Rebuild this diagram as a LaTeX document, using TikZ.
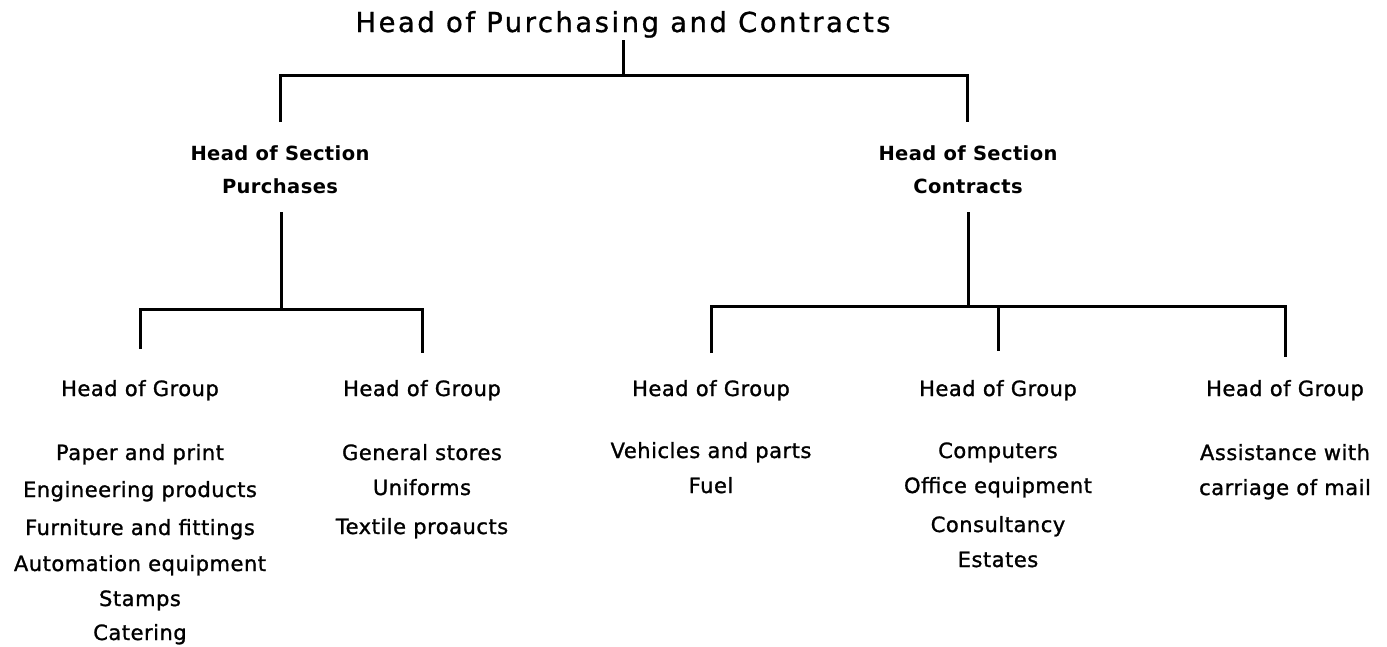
\documentclass[tikz,border=0pt]{standalone}
\usepackage{fontspec}
\setmainfont{DejaVu Sans}
\newfontfamily\titlefont[LetterSpace=9,FakeBold=1]{DejaVu Sans}
\newfontfamily\secfont[LetterSpace=2]{DejaVu Sans}
\newfontfamily\itemfont[LetterSpace=2.5,FakeBold=1.2]{DejaVu Sans}
\tikzset{
  txt/.style={inner sep=0pt, anchor=base, font=\itemfont\fontsize{21}{25}\selectfont},
  sec/.style={inner sep=0pt, anchor=base, font=\secfont\bfseries\fontsize{19.5}{23}\selectfont},
  ttl/.style={inner sep=0pt, anchor=base, font=\titlefont\fontsize{27.5}{32}\selectfont},
  conn/.style={line width=3pt, line join=miter, draw=black}
}
\begin{document}
\begin{tikzpicture}[x=1pt,y=-1pt]
\useasboundingbox[fill=white] (0,0) rectangle (1387,646);
% title
\node[ttl] (title) at (623,32) {Head of Purchasing and Contracts};
% sections
\node[sec] (sp1) at (280,160) {Head of Section};
\node[sec] (sp2) at (280,193) {Purchases};
\node[sec] (sc1) at (968,160) {Head of Section};
\node[sec] (sc2) at (968,193) {Contracts};
% group heads
\node[txt] (g1) at (140,396) {Head of Group};
\node[txt] (g2) at (422,396) {Head of Group};
\node[txt] (g3) at (711,396) {Head of Group};
\node[txt] (g4) at (998,396) {Head of Group};
\node[txt] (g5) at (1285,396) {Head of Group};
% column 1
\node[txt] (a1) at (140,460) {Paper and print};
\node[txt] (a2) at (140,497) {Engineering products};
\node[txt] (a3) at (140,535) {Furniture and fittings};
\node[txt] (a4) at (140,571) {Automation equipment};
\node[txt] (a5) at (140,606) {Stamps};
\node[txt] (a6) at (140,640) {Catering};
% column 2
\node[txt] (b1) at (422,460) {General stores};
\node[txt] (b2) at (422,495) {Uniforms};
\node[txt] (b3) at (422,534) {Textile proaucts};
% column 3
\node[txt] (c1) at (711,458) {Vehicles and parts};
\node[txt] (c2) at (711,493) {Fuel};
% column 4
\node[txt] (d1) at (998,458) {Computers};
\node[txt] (d2) at (998,493) {Office equipment};
\node[txt] (d3) at (998,532) {Consultancy};
\node[txt] (d4) at (998,567) {Estates};
% column 5
\node[txt] (e1) at (1285,460) {Assistance with};
\node[txt] (e2) at (1285,495) {carriage of mail};
% connector points
\coordinate (t0) at (623,40);
\coordinate (tb) at (623,75);
\coordinate (tl) at (280,75);
\coordinate (tr) at (967,75);
\coordinate (tle) at (280,122);
\coordinate (tre) at (967,122);
\coordinate (p0) at (281,212);
\coordinate (pb) at (281,309);
\coordinate (pl) at (140,309);
\coordinate (pr) at (422,309);
\coordinate (ple) at (140,349);
\coordinate (pre) at (422,353);
\coordinate (c0) at (968,212);
\coordinate (cb) at (968,306);
\coordinate (cl) at (711,306);
\coordinate (cm) at (998,306);
\coordinate (cr) at (1285,306);
\coordinate (cle) at (711,353);
\coordinate (cme) at (998,351);
\coordinate (cre) at (1285,357);
% connectors
\draw[conn] (t0) -- (tb);
\draw[conn] (tle) -- (tl) -- (tr) -- (tre);
\draw[conn] (p0) -- (pb);
\draw[conn] (ple) -- (pl) -- (pr) -- (pre);
\draw[conn] (c0) -- (cb);
\draw[conn] (cle) -- (cl) -- (cr) -- (cre);
\draw[conn] (cm) -- (cme);
\end{tikzpicture}
\end{document}
